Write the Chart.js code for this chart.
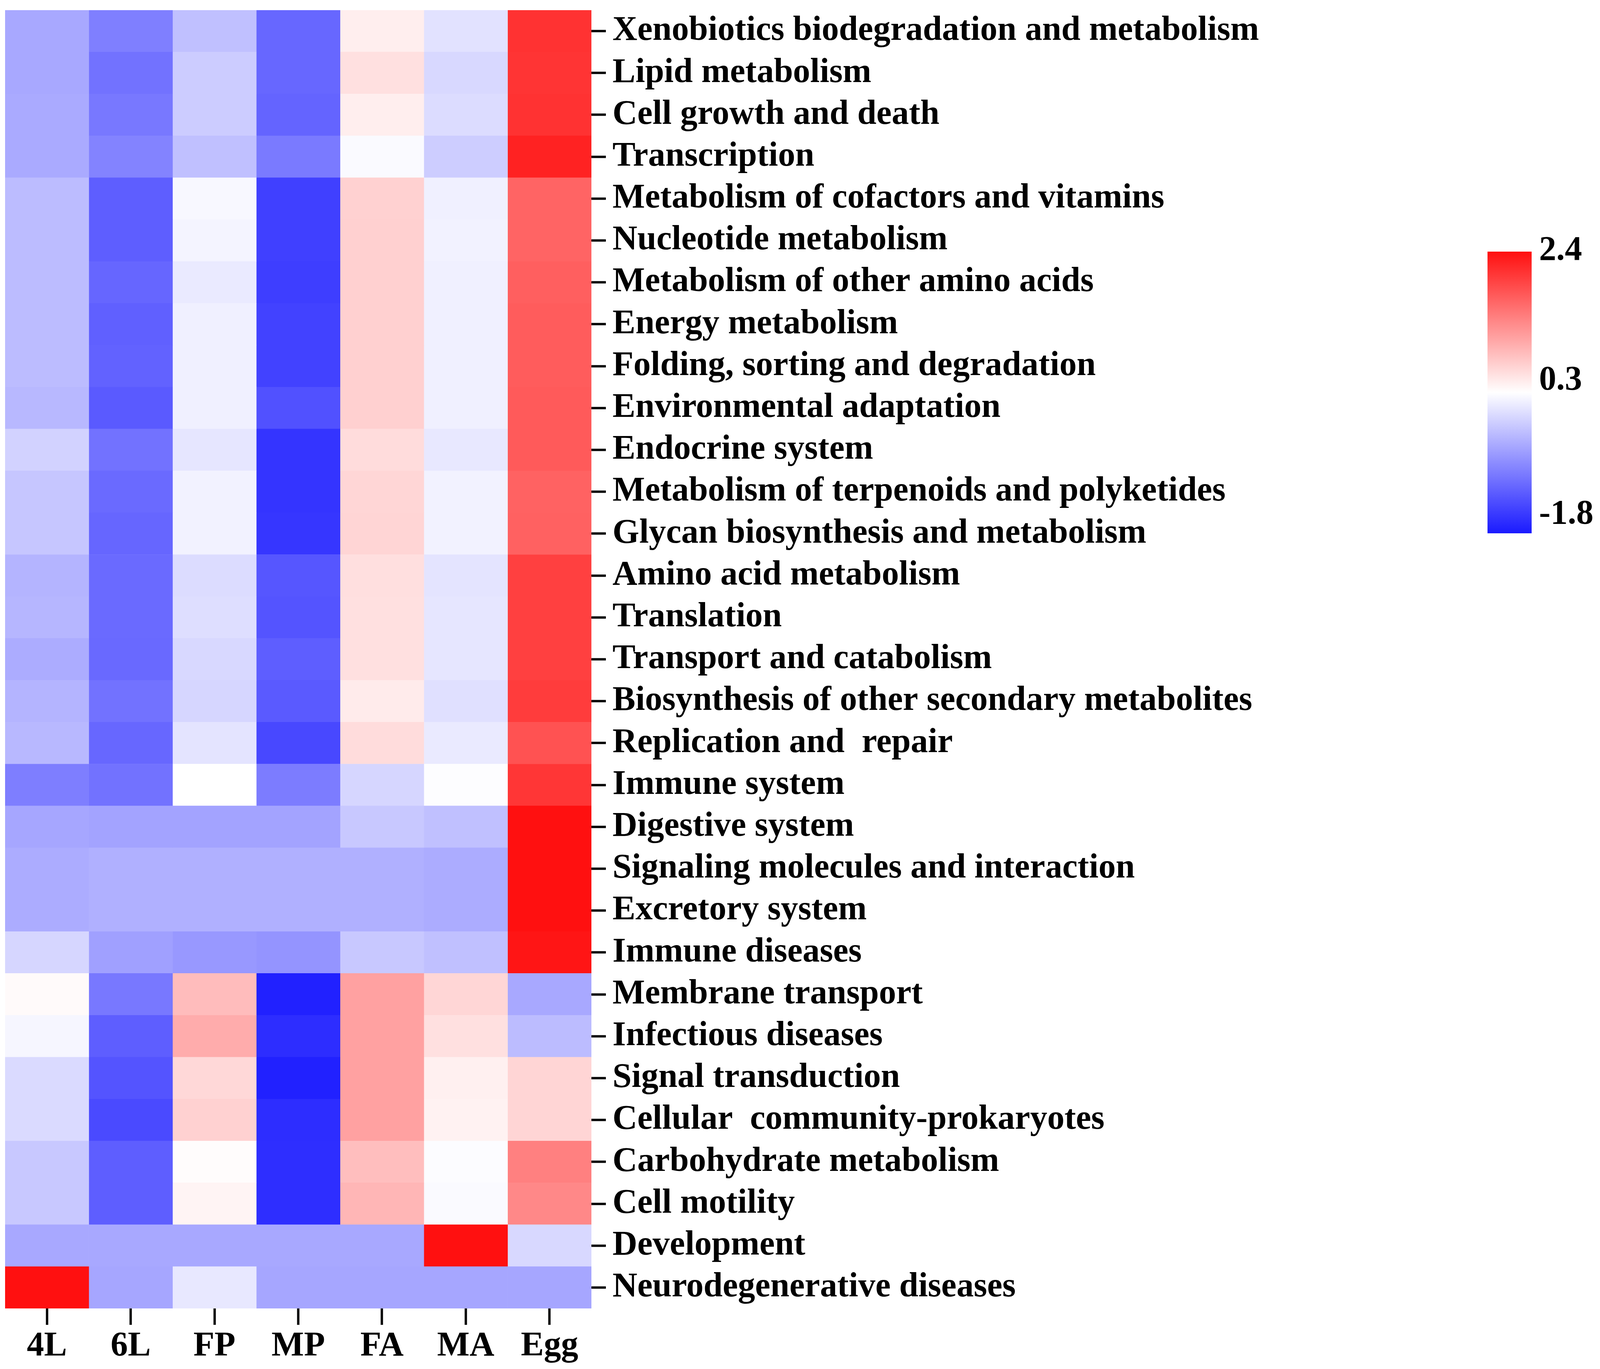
<!DOCTYPE html>
<html>
<head>
<meta charset="utf-8">
<script src="https://cdn.jsdelivr.net/npm/chart.js@4.4.1/dist/chart.umd.min.js"></script>
<style>
  html, body { margin: 0; padding: 0; background: #fff; }
  canvas { display: block; }
</style>
</head>
<body>
<canvas id="heatmap" width="4107" height="3504"></canvas>
<script>
// Row labels (top to bottom) and sample columns
const pathways = [
  'Xenobiotics biodegradation and metabolism',
  'Lipid metabolism',
  'Cell growth and death',
  'Transcription',
  'Metabolism of cofactors and vitamins',
  'Nucleotide metabolism',
  'Metabolism of other amino acids',
  'Energy metabolism',
  'Folding, sorting and degradation',
  'Environmental adaptation',
  'Endocrine system',
  'Metabolism of terpenoids and polyketides',
  'Glycan biosynthesis and metabolism',
  'Amino acid metabolism',
  'Translation',
  'Transport and catabolism',
  'Biosynthesis of other secondary metabolites',
  'Replication and  repair',
  'Immune system',
  'Digestive system',
  'Signaling molecules and interaction',
  'Excretory system',
  'Immune diseases',
  'Membrane transport',
  'Infectious diseases',
  'Signal transduction',
  'Cellular  community-prokaryotes',
  'Carbohydrate metabolism',
  'Cell motility',
  'Development',
  'Neurodegenerative diseases'
];

const stages = ['4L', '6L', 'FP', 'MP', 'FA', 'MA', 'Egg'];

// z-scores per stage, same order as pathways
const v4L  = [-0.50, -0.50, -0.48, -0.48, -0.31, -0.31, -0.31, -0.31, -0.31, -0.35, -0.11, -0.22, -0.22, -0.39, -0.37, -0.46, -0.39, -0.35, -0.88, -0.52, -0.46, -0.46, -0.08, 0.34, 0.22, -0.04, -0.04, -0.20, -0.20, -0.50, 2.40];
const v6L  = [-0.87, -0.99, -0.94, -0.84, -1.18, -1.18, -1.10, -1.16, -1.14, -1.21, -0.99, -1.07, -1.10, -1.07, -1.07, -1.08, -0.99, -1.09, -0.99, -0.54, -0.42, -0.42, -0.57, -0.94, -1.18, -1.27, -1.36, -1.18, -1.18, -0.50, -0.52];
const vFP  = [-0.28, -0.17, -0.17, -0.28, 0.24, 0.20, 0.11, 0.16, 0.16, 0.16, 0.07, 0.18, 0.18, -0.02, 0.00, -0.06, -0.08, 0.05, 0.30, -0.54, -0.42, -0.42, -0.64, 0.89, 1.03, 0.64, 0.70, 0.33, 0.40, -0.50, 0.09];
const vMP  = [-1.09, -1.09, -1.12, -0.92, -1.45, -1.45, -1.47, -1.43, -1.43, -1.30, -1.56, -1.56, -1.54, -1.25, -1.27, -1.18, -1.21, -1.38, -0.90, -0.54, -0.42, -0.42, -0.68, -1.74, -1.63, -1.74, -1.63, -1.62, -1.62, -0.50, -0.52];
const vFA  = [0.45, 0.57, 0.45, 0.25, 0.70, 0.71, 0.71, 0.71, 0.71, 0.71, 0.61, 0.66, 0.67, 0.58, 0.57, 0.57, 0.48, 0.61, -0.08, -0.20, -0.42, -0.42, -0.20, 1.13, 1.13, 1.13, 1.13, 0.87, 0.94, -0.50, -0.52];
const vMA  = [0.03, -0.06, -0.02, -0.16, 0.16, 0.18, 0.16, 0.16, 0.16, 0.16, 0.09, 0.18, 0.18, 0.05, 0.07, 0.07, 0.02, 0.11, 0.28, -0.28, -0.46, -0.46, -0.28, 0.66, 0.57, 0.43, 0.41, 0.27, 0.25, 2.40, -0.52];
const vEgg = [2.10, 2.08, 2.10, 2.24, 1.66, 1.66, 1.71, 1.73, 1.73, 1.75, 1.75, 1.68, 1.69, 1.98, 1.98, 1.98, 2.01, 1.82, 2.07, 2.40, 2.40, 2.40, 2.36, -0.50, -0.31, 0.67, 0.67, 1.42, 1.35, -0.06, -0.52];

const stageValues = [v4L, v6L, vFP, vMP, vFA, vMA, vEgg];

// colour scale: max, mid, min
const scaleTicks = [2.4, 0.3, -1.8];

const FONT = "'Liberation Serif', 'Times New Roman', serif";

/**
 * Map a value onto the blue - white - red scale
 */
function heatColor(v) {
  const hi = scaleTicks[0], mid = scaleTicks[1], lo = scaleTicks[2];
  if (v >= mid) {
    const t = Math.min(1, (v - mid) / (hi - mid));
    const g = Math.round(255 - t * 239);
    return `rgb(255,${g},${g})`;
  }
  const t = Math.min(1, (mid - v) / (mid - lo));
  const c = Math.round(255 - t * 229);
  return `rgb(${c},${c},255)`;
}

// colour bar drawn next to the plot
const colorBar = {
  id: 'colorBar',
  afterDraw(chart) {
    const ctx = chart.ctx;
    const x = 3808, w = 113, top = 644, h = 721;
    const hi = scaleTicks[0], lo = scaleTicks[2];
    const grad = ctx.createLinearGradient(0, top, 0, top + h);
    for (let i = 0; i <= 20; i++) {
      const f = i / 20;
      grad.addColorStop(f, heatColor(hi - f * (hi - lo)));
    }
    ctx.save();
    ctx.fillStyle = grad;
    ctx.fillRect(x, top, w, h);

    ctx.fillStyle = '#000';
    ctx.font = `bold 88px ${FONT}`;
    ctx.textAlign = 'left';
    ctx.textBaseline = 'middle';
    const labelY = [642, 974, 1317];
    scaleTicks.forEach((t, i) => {
      ctx.fillText(t.toFixed(1), 3940, labelY[i]);
    });
    ctx.restore();
  }
};

const ctx = document.getElementById('heatmap').getContext('2d');

new Chart(ctx, {
  type: 'bar',
  data: {
    labels: pathways,
    datasets: stages.map((s, i) => ({
      label: s,
      data: pathways.map(() => 1),
      backgroundColor: stageValues[i].map(heatColor),
      borderWidth: 0,
      barPercentage: 1,
      categoryPercentage: 1
    }))
  },
  options: {
    indexAxis: 'y',
    responsive: false,
    animation: false,
    devicePixelRatio: 1,
    layout: {
      padding: { left: 13, top: 26, right: 0, bottom: 0 }
    },
    plugins: {
      legend: { display: false },
      tooltip: { enabled: false }
    },
    scales: {
      x: {
        stacked: true,
        min: 0,
        max: 7,
        position: 'bottom',
        border: { display: false },
        grid: {
          drawOnChartArea: false,
          drawTicks: true,
          tickLength: 42,
          tickWidth: 6,
          tickColor: '#000'
        },
        afterBuildTicks: scale => {
          scale.ticks = stages.map((_, i) => ({ value: i + 0.5 }));
        },
        afterFit: scale => {
          scale.height = 155;
          scale.paddingLeft = 0;
          scale.paddingRight = 0;
        },
        ticks: {
          autoSkip: false,
          maxRotation: 0,
          padding: 2,
          color: '#000',
          font: { family: FONT, size: 88, weight: 'bold' },
          callback: (value, index) => stages[index]
        }
      },
      y: {
        stacked: true,
        position: 'right',
        border: { display: false },
        grid: {
          offset: false,
          drawOnChartArea: false,
          drawTicks: true,
          tickLength: 37,
          tickWidth: 6,
          tickColor: '#000'
        },
        afterFit: scale => {
          scale.width = 2593;
          scale.paddingTop = 0;
          scale.paddingBottom = 0;
        },
        ticks: {
          autoSkip: false,
          padding: 17,
          color: '#000',
          font: { family: FONT, size: 88, weight: 'bold' }
        }
      }
    }
  },
  plugins: [colorBar]
});
</script>
</body>
</html>
